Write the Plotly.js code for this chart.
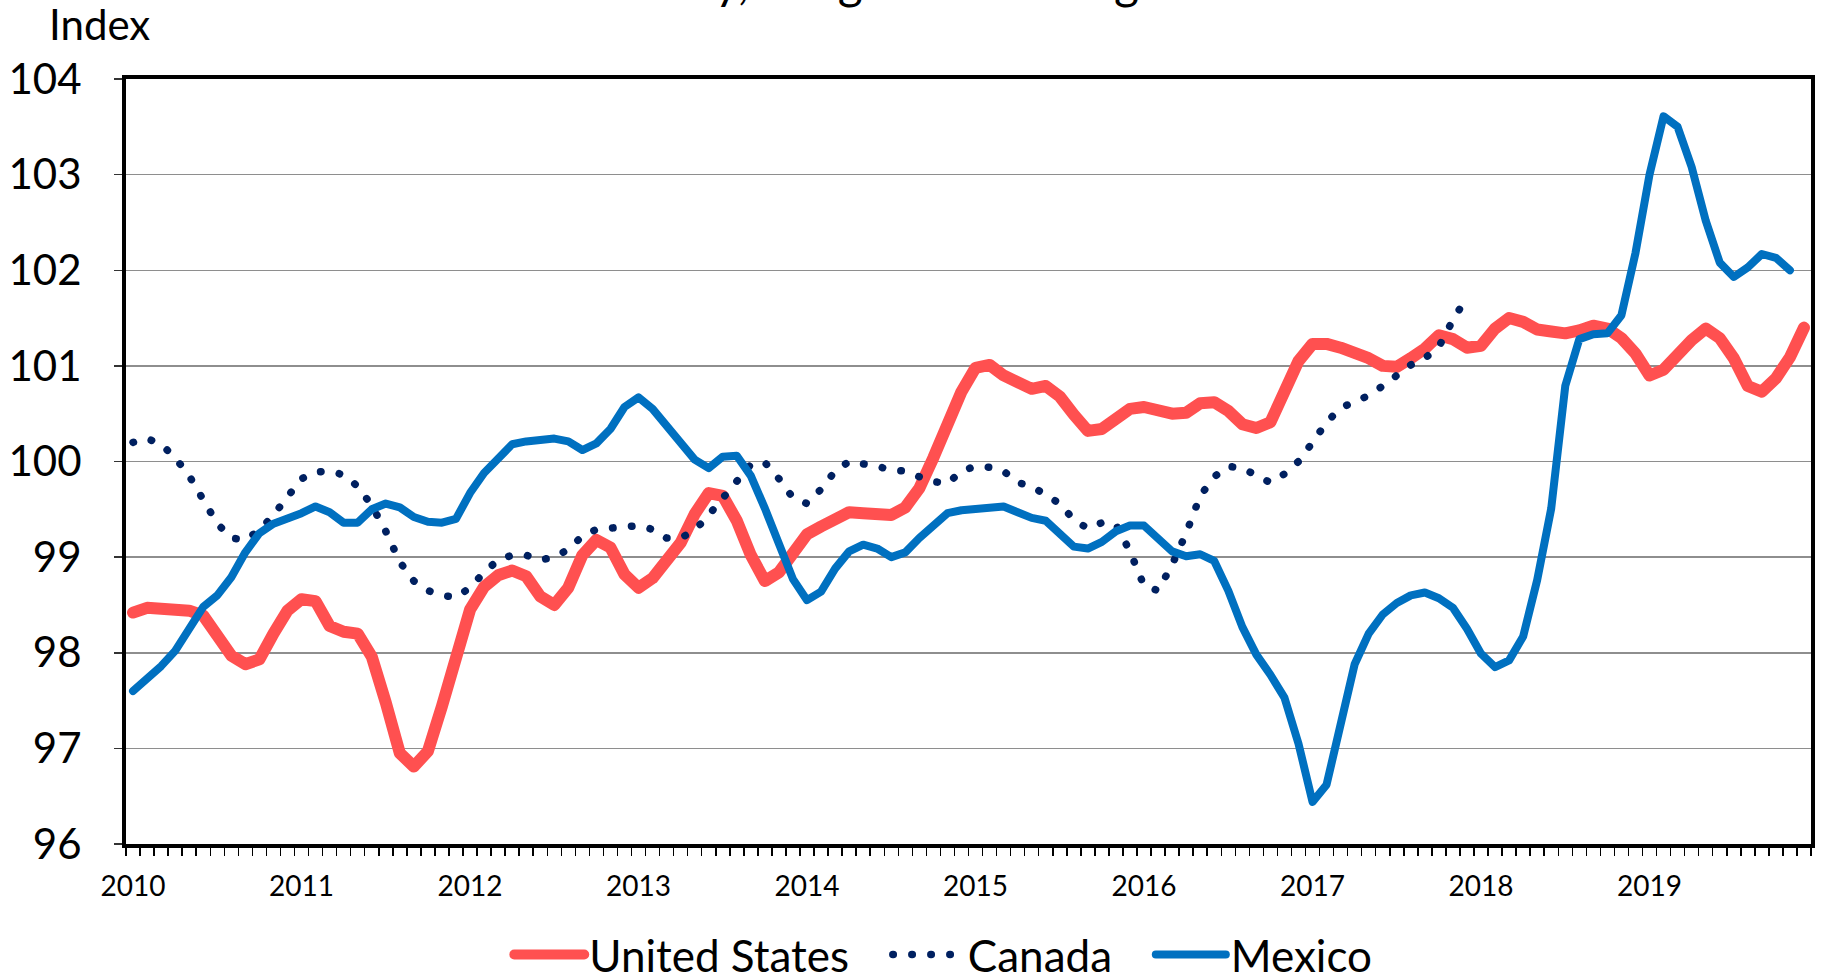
<!DOCTYPE html>
<html>
<head>
<meta charset="utf-8">
<script src="https://cdn.plot.ly/plotly-3.0.1.min.js"></script>
<style>
  body { margin: 0; background: #fff; }
  #chart { width: 1826px; height: 980px; }
  .js-line { stroke-linecap: round !important; stroke-linejoin: round !important; }
</style>
</head>
<body>
<div id="chart"></div>
<script>
const years = ['2010', '2011', '2012', '2013', '2014', '2015', '2016', '2017', '2018', '2019'];
const monthNames = ['01', '02', '03', '04', '05', '06', '07', '08', '09', '10', '11', '12'];

// monthly index values, long-term average = 100
const unitedStates = [
    98.42, 98.47, 98.46, 98.45, 98.44, 98.39, 98.17, 97.97, 97.88, 97.93, 98.20, 98.44,
    98.56, 98.54, 98.28, 98.22, 98.20, 97.96, 97.48, 96.95, 96.81, 96.97, 97.44, 97.96,
    98.45, 98.69, 98.81, 98.86, 98.80, 98.59, 98.50, 98.68, 99.02, 99.18, 99.10, 98.82,
    98.68, 98.78, 98.95, 99.15, 99.45, 99.67, 99.64, 99.38, 99.02, 98.75, 98.84, 99.06,
    99.24, 99.32, 99.38, 99.47, 99.46, 99.45, 99.44, 99.52, 99.72, 100.04, 100.39, 100.73,
    100.98, 101.01, 100.90, 100.82, 100.76, 100.79, 100.68, 100.49, 100.32, 100.34, 100.45, 100.55,
    100.57, 100.54, 100.50, 100.51, 100.61, 100.62, 100.53, 100.39, 100.35, 100.41, 100.73, 101.05,
    101.23, 101.23, 101.19, 101.15, 101.08, 101.00, 100.99, 101.08, 101.18, 101.32, 101.28, 101.19,
    101.21, 101.39, 101.50, 101.46, 101.38, 101.36, 101.34, 101.37, 101.42, 101.39, 101.29, 101.13,
    100.90, 100.96, 101.12, 101.27, 101.39, 101.29, 101.08, 100.79, 100.73, 100.87, 101.09, 101.40
];

const canada = [
    100.20, 100.24, 100.18, 100.04, 99.85, 99.61, 99.35, 99.20, 99.18, 99.28, 99.44, 99.63,
    99.82, 99.89, 99.90, 99.86, 99.74, 99.54, 99.27, 98.95, 98.75, 98.65, 98.60, 98.58,
    98.68, 98.84, 98.97, 99.02, 99.02, 98.97, 99.00, 99.08, 99.22, 99.29, 99.30, 99.31,
    99.33, 99.29, 99.20, 99.20, 99.28, 99.44, 99.62, 99.82, 99.97, 99.99, 99.82, 99.62,
    99.56, 99.71, 99.90, 100.00, 99.98, 99.95, 99.91, 99.90, 99.84, 99.79, 99.77, 99.90,
    99.95, 99.94, 99.90, 99.78, 99.74, 99.66, 99.56, 99.39, 99.30, 99.36, 99.34, 99.06,
    98.70, 98.65, 98.92, 99.25, 99.64, 99.84, 99.95, 99.93, 99.85, 99.78, 99.87, 100.00,
    100.20, 100.41, 100.56, 100.63, 100.69, 100.79, 100.91, 101.01, 101.08, 101.20, 101.48, 101.72
];

const mexico = [
    97.60, 97.73, 97.86, 98.02, 98.27, 98.48, 98.60, 98.79, 99.05, 99.25, 99.35, 99.40,
    99.46, 99.53, 99.47, 99.36, 99.36, 99.50, 99.56, 99.52, 99.42, 99.37, 99.36, 99.40,
    99.67, 99.88, 100.02, 100.18, 100.21, 100.23, 100.24, 100.21, 100.12, 100.19, 100.34, 100.57,
    100.67, 100.55, 100.37, 100.19, 100.02, 99.93, 100.05, 100.06, 99.85, 99.51, 99.13, 98.77,
    98.55, 98.64, 98.88, 99.06, 99.13, 99.09, 99.00, 99.05, 99.20, 99.34, 99.46, 99.49,
    99.50, 99.52, 99.53, 99.47, 99.41, 99.38, 99.25, 99.11, 99.09, 99.16, 99.27, 99.33,
    99.33, 99.20, 99.06, 99.01, 99.03, 98.96, 98.65, 98.27, 97.98, 97.77, 97.53, 97.05,
    96.44, 96.62, 97.21, 97.88, 98.20, 98.40, 98.52, 98.60, 98.63, 98.57, 98.47, 98.25,
    97.99, 97.85, 97.92, 98.17, 98.76, 99.51, 100.79, 101.28, 101.33, 101.34, 101.53, 102.18,
    103.00, 103.61, 103.50, 103.08, 102.52, 102.08, 101.93, 102.03, 102.17, 102.13, 102.00
];

const seriesNames = ['United States', 'Canada', 'Mexico'];

const months = [];
years.forEach(y => monthNames.forEach(m => months.push(y + '-' + m)));
const tickText = months.map(m => m.endsWith('-01') ? m.slice(0, 4) : '');

const FONT = 'Lato, "Open Sans", sans-serif';
const PAD = '\u00a0\u00a0\u00a0';

const traces = [
    {
        x: months.slice(0, unitedStates.length),
        y: unitedStates,
        name: seriesNames[0] + PAD,
        mode: 'lines',
        line: { color: '#FF5050', width: 12 }
    },
    {
        x: months.slice(0, canada.length),
        y: canada,
        name: seriesNames[1] + PAD,
        mode: 'lines',
        line: { color: '#002060', width: 7.5, dash: '0.5px,18.5px' }
    },
    {
        x: months.slice(0, mexico.length),
        y: mexico,
        name: seriesNames[2],
        mode: 'lines',
        line: { color: '#0070C0', width: 8 }
    }
];

const layout = {
    width: 1826,
    height: 980,
    margin: { l: 126, r: 15, t: 79, b: 136, autoexpand: false },
    paper_bgcolor: '#ffffff',
    plot_bgcolor: '#ffffff',
    font: { family: FONT, color: '#000000' },
    showlegend: true,
    legend: {
        orientation: 'h',
        x: 0.485,
        xanchor: 'center',
        y: -0.145,
        yanchor: 'middle',
        itemwidth: 70,
        font: { family: FONT, size: 44, color: '#000000' },
        bgcolor: 'rgba(0,0,0,0)'
    },
    xaxis: {
        type: 'category',
        categoryorder: 'array',
        categoryarray: months,
        range: [-0.5, months.length - 0.5],
        tickmode: 'array',
        tickvals: months,
        ticktext: tickText,
        tickson: 'boundaries',
        tickangle: 0,
        ticks: 'outside',
        ticklen: 8,
        tickwidth: 1.5,
        tickcolor: '#000000',
        ticklabelstandoff: 14,
        tickfont: { family: FONT, size: 28, color: '#000000' },
        showgrid: false,
        zeroline: false,
        showline: true,
        linewidth: 4,
        linecolor: '#000000',
        mirror: true
    },
    yaxis: {
        range: [96, 104],
        tickmode: 'linear',
        tick0: 96,
        dtick: 1,
        ticks: 'outside',
        ticklen: 8,
        tickwidth: 1.5,
        tickcolor: '#333333',
        ticklabelstandoff: 24,
        tickfont: { family: FONT, size: 42, color: '#000000' },
        showgrid: true,
        gridcolor: '#8E8E8E',
        gridwidth: 1.5,
        zeroline: false,
        showline: true,
        linewidth: 4,
        linecolor: '#000000',
        mirror: true
    },
    annotations: [
        {
            text: 'Index',
            xref: 'paper', yref: 'paper',
            x: -0.047, y: 1.037,
            xanchor: 'left', yanchor: 'bottom',
            showarrow: false,
            font: { family: FONT, size: 42, color: '#000000' }
        },
        {
            text: 'Monthly, Long-Term Average = 100',
            xref: 'paper', yref: 'paper',
            x: 0.478, y: 1.089,
            xanchor: 'center', yanchor: 'bottom',
            showarrow: false,
            font: { family: FONT, size: 48, color: '#000000' }
        }
    ]
};

Plotly.newPlot('chart', traces, layout, { displayModeBar: false, staticPlot: true });
</script>
</body>
</html>
